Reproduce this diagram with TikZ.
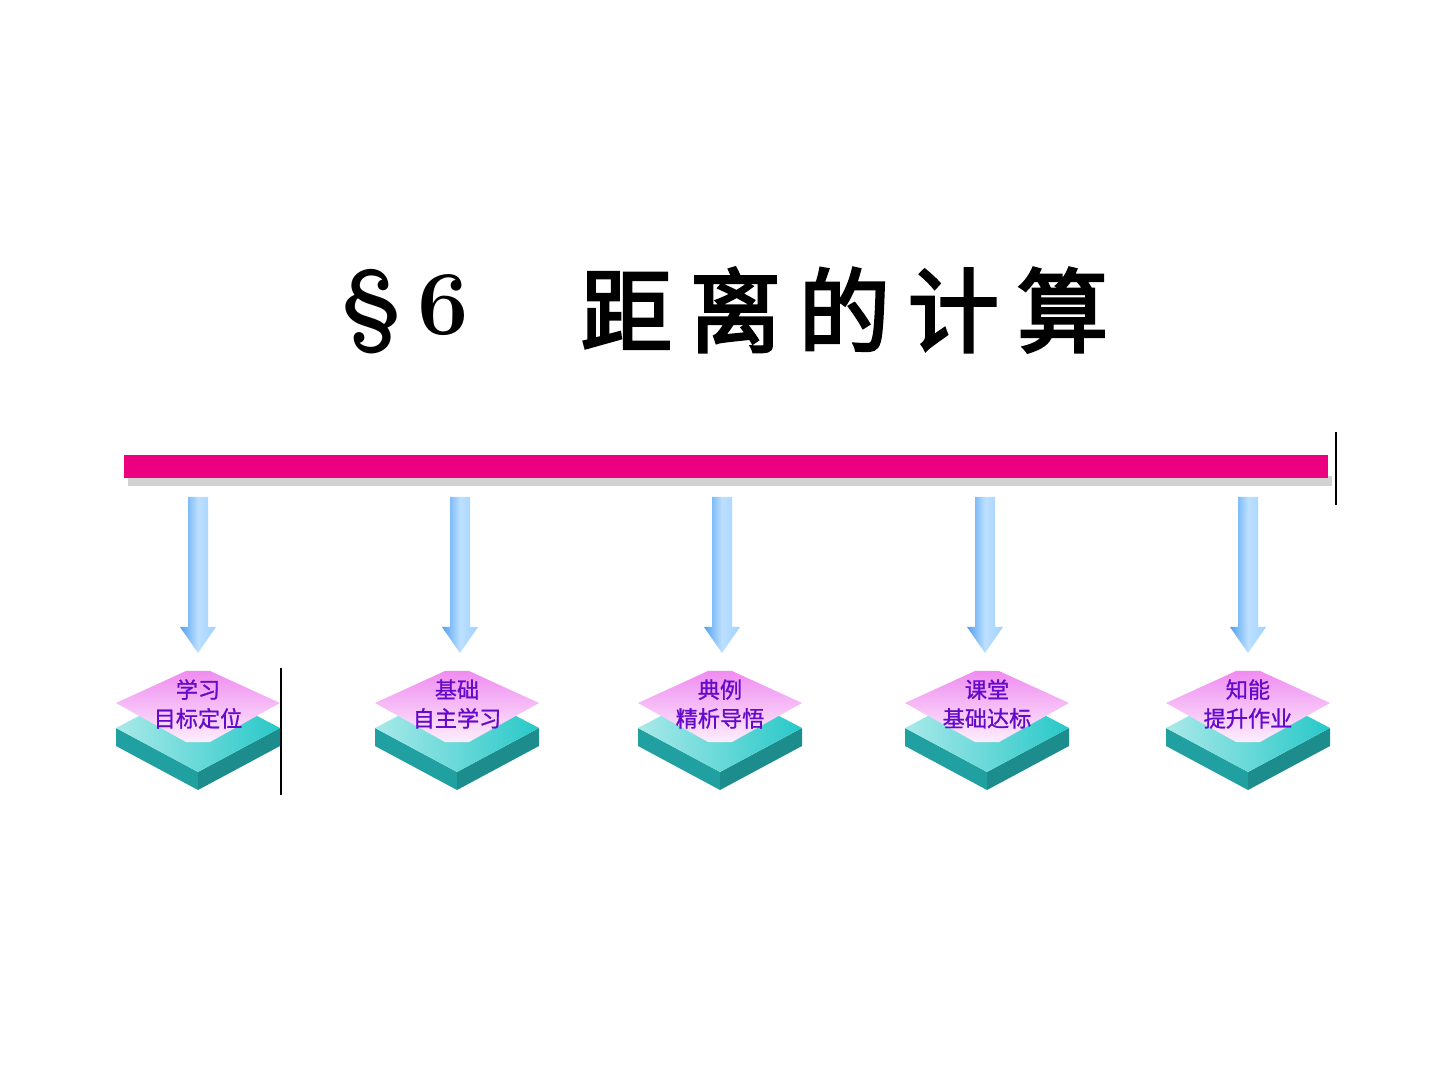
\documentclass[tikz,border=0pt]{standalone}
\usepackage{fontspec}
\newfontfamily\cjk{Noto Sans CJK SC}
\usetikzlibrary{calc}
\begin{document}
\begin{tikzpicture}[x=0.01cm,y=-0.01cm]
        %%颜色
        \definecolor{bar_color}{RGB}{236,0,128}
        \definecolor{arrow_light}{RGB}{160,210,255}
        \definecolor{arrow_dark}{RGB}{80,160,240}
        \definecolor{pink_color}{RGB}{240,140,240}
        \definecolor{teal_color}{RGB}{40,200,200}
        \definecolor{label_color}{RGB}{100,10,200}
        \tikzset{label text/.style = {font=\cjk\fontsize{6.3}{7.2}\selectfont\addfontfeatures{FakeBold=1}, text=label_color, align=center, inner sep=0}}
        \useasboundingbox (0,0) rectangle (1440,1080);

        %%标题
        \node[anchor=west, inner sep=0] (sec) at (340,312) {\fontsize{26}{26}\selectfont\bfseries\S\,6};
        \node[anchor=west, inner sep=0] (title) at (580,310) {\cjk\fontsize{26}{26}\selectfont\addfontfeatures{FakeBold=3}距\hspace{5pt}离\hspace{5pt}的\hspace{5pt}计\hspace{5pt}算};

        %%横条
        \fill[gray!35] (128,476) rectangle (1332,486);
        \fill[bar_color] (124,455) rectangle (1328,478);
        \draw[thick] (1336,432)--(1336,505);
        \draw[thick] (281,668)--(281,795);

        %%箭头
        \foreach \ax in {198,460,722,985,1248}
            \shade[left color=arrow_dark, right color=arrow_light, middle color=arrow_light!70!white]
            (\ax-10,497)--(\ax+10,497)--(\ax+10,627)--(\ax+18,627)--(\ax,653)--(\ax-18,627)--(\ax-10,627)--cycle;

        %%方块
        \foreach \tx/\la/\lb/\nm in {198/学习/目标定位/t1, 457/基础/自主学习/t2, 720/典例/精析导悟/t3, 987/课堂/基础达标/t4, 1248/知能/提升作业/t5}{
            \fill[teal_color!80!black] (\tx-82,728)--(\tx,772)--(\tx,790)--(\tx-82,746)--cycle;
            \fill[teal_color!70!black] (\tx+82,728)--(\tx,772)--(\tx,790)--(\tx+82,746)--cycle;
            \shade[left color=teal_color!40!white, right color=teal_color] (\tx-82,728)--(\tx,685)--(\tx+82,728)--(\tx,772)--cycle;
            \shade[top color=pink_color, bottom color=pink_color!15!white] (\tx-82,703)--(\tx-12,671)--(\tx+12,671)--(\tx+82,703)--(\tx+12,742)--(\tx-12,742)--cycle;
            \node[label text] (\nm) at (\tx,704) {\la\\[1pt]\lb};
        }
\end{tikzpicture}
\end{document}
